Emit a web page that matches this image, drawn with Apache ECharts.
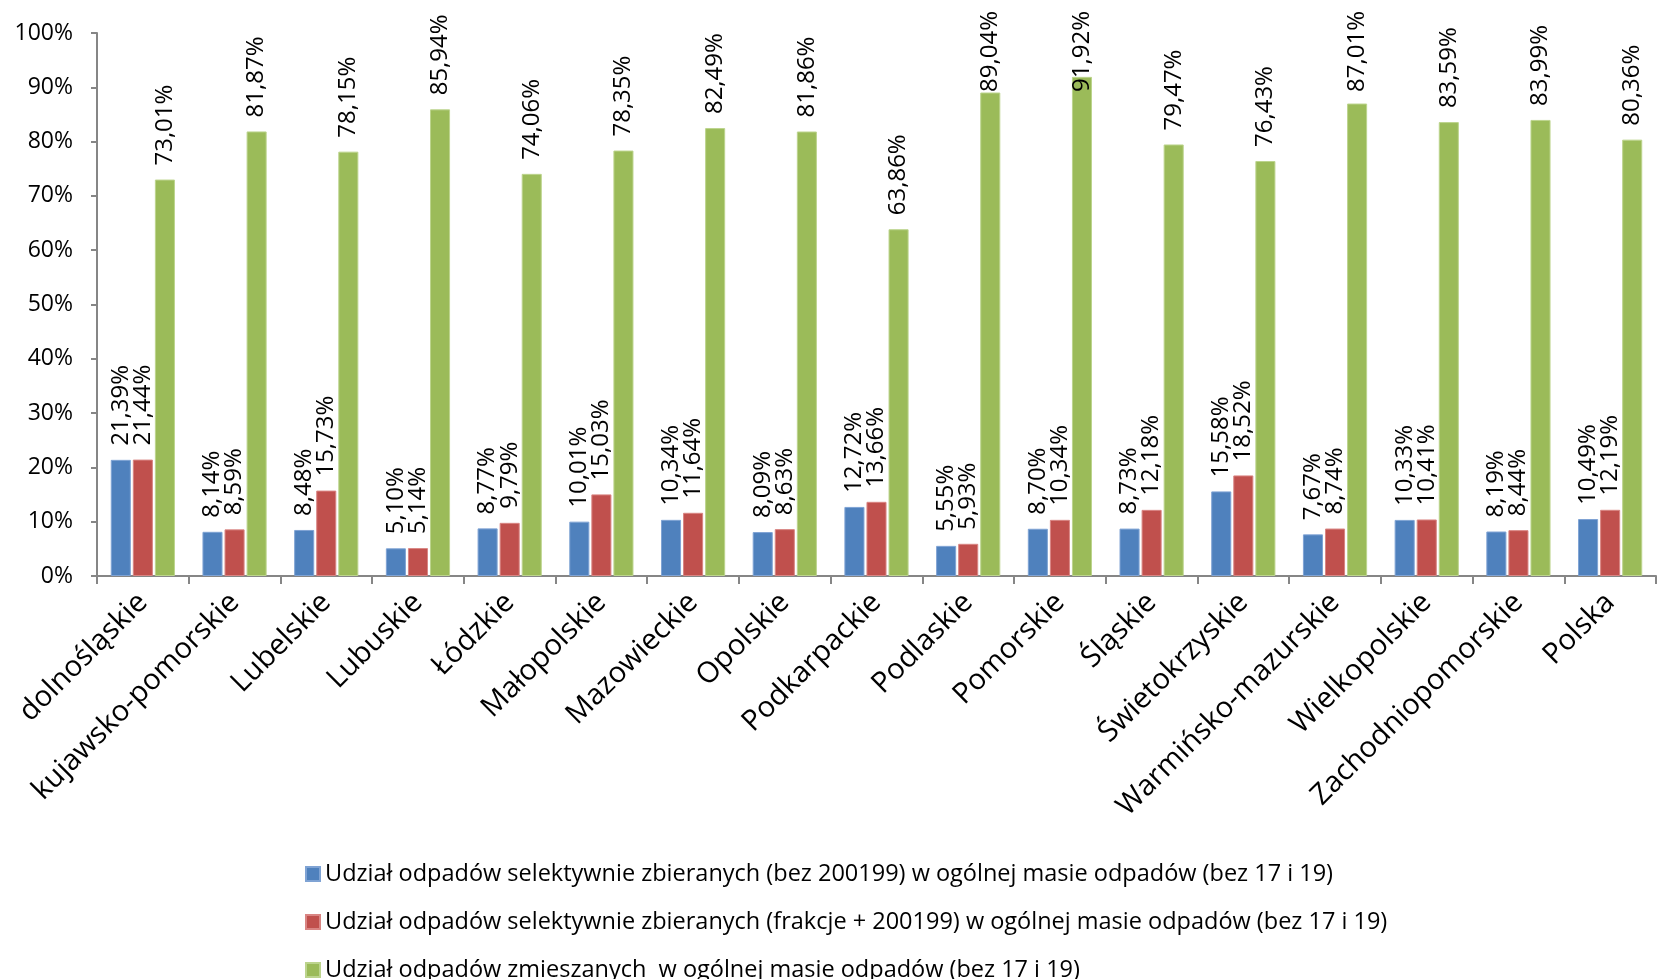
<!DOCTYPE html>
<html>
<head>
<meta charset="utf-8">
<script src="https://cdn.jsdelivr.net/npm/echarts@6/dist/echarts.min.js"></script>
<style>
  html, body { margin: 0; padding: 0; background: #ffffff; }
  #chart { width: 1659px; height: 979px; }
</style>
</head>
<body>
<div id="chart"></div>
<script>
// Regions (województwa) plus the national total
const categories = [
  'dolnośląskie', 'kujawsko-pomorskie', 'Lubelskie', 'Lubuskie', 'Łódzkie',
  'Małopolskie', 'Mazowieckie', 'Opolskie', 'Podkarpackie', 'Podlaskie',
  'Pomorskie', 'Śląskie', 'Świetokrzyskie', 'Warmińsko-mazurskie',
  'Wielkopolskie', 'Zachodniopomorskie', 'Polska'
];

// Shares in percent
const selectiveNo200199 = [21.39, 8.14, 8.48, 5.10, 8.77, 10.01, 10.34, 8.09, 12.72, 5.55, 8.70, 8.73, 15.58, 7.67, 10.33, 8.19, 10.49];
const selectiveWith200199 = [21.44, 8.59, 15.73, 5.14, 9.79, 15.03, 11.64, 8.63, 13.66, 5.93, 10.34, 12.18, 18.52, 8.74, 10.41, 8.44, 12.19];
const mixedWaste = [73.01, 81.87, 78.15, 85.94, 74.06, 78.35, 82.49, 81.86, 63.86, 89.04, 91.92, 79.47, 76.43, 87.01, 83.59, 83.99, 80.36];

const seriesNames = [
  'Udział odpadów selektywnie zbieranych (bez 200199) w ogólnej masie odpadów (bez 17 i 19)',
  'Udział odpadów selektywnie zbieranych (frakcje + 200199) w ogólnej masie odpadów (bez 17 i 19)',
  'Udział odpadów zmieszanych  w ogólnej masie odpadów (bez 17 i 19)'
];

const yTicks = [0, 10, 20, 30, 40, 50, 60, 70, 80, 90, 100];

const FONT = "'Open Sans', 'Noto Sans', sans-serif";

const colors = ['#4F81BD', '#C0504D', '#9BBB59'];
const borders = ['#7FA3D4', '#D98583', '#BCD48D'];

// Highest point a value label may reach; taller labels are pushed down onto the bar
const LABEL_TOP_LIMIT = 11;

function pct(v) {
  return v.toFixed(2).replace('.', ',') + '%';
}

function keepLabelInside(p) {
  const r = p.labelRect;
  if (r && r.y < LABEL_TOP_LIMIT) {
    return { y: LABEL_TOP_LIMIT + r.height };
  }
  return {};
}

function barSeries(name, data, i) {
  return {
    name: name,
    type: 'bar',
    data: data,
    barGap: '10%',
    barCategoryGap: '30%',
    itemStyle: { color: colors[i], borderColor: borders[i], borderWidth: 1 },
    label: {
      show: true,
      position: 'top',
      rotate: 90,
      align: 'left',
      verticalAlign: 'middle',
      distance: 14,
      color: '#000000',
      fontFamily: FONT,
      fontSize: 24,
      formatter: p => pct(p.value)
    },
    labelLayout: keepLabelInside
  };
}

// One legend row per series, stacked under the plot
const legendTops = [857, 905, 953];
const legends = seriesNames.map((name, i) => ({
  orient: 'horizontal',
  left: 300,
  top: legendTops[i],
  itemWidth: 14,
  itemHeight: 14,
  icon: 'rect',
  textStyle: { fontFamily: FONT, fontSize: 23.5, color: '#000000' },
  data: [name]
}));

const chart = echarts.init(document.getElementById('chart'), null, { renderer: 'canvas' });

chart.setOption({
  animation: false,
  backgroundColor: '#ffffff',
  color: colors,
  grid: { left: 97, right: 3, top: 33, bottom: 403, containLabel: false },
  legend: legends,
  xAxis: {
    type: 'category',
    data: categories,
    boundaryGap: true,
    axisLine: { lineStyle: { color: '#868686', width: 2 } },
    axisTick: { show: true, length: 8, alignWithLabel: false, lineStyle: { color: '#868686', width: 2 } },
    axisLabel: {
      interval: 0,
      rotate: 45,
      margin: 22,
      color: '#000000',
      fontFamily: FONT,
      fontSize: 29
    }
  },
  yAxis: {
    type: 'value',
    min: 0,
    max: 100,
    interval: 10,
    splitLine: { show: false },
    axisLine: { show: true, lineStyle: { color: '#868686', width: 2 } },
    axisTick: { show: true, inside: false, length: 6, lineStyle: { color: '#868686', width: 2 } },
    axisLabel: {
      color: '#000000',
      fontFamily: FONT,
      fontSize: 23,
      margin: 24,
      customValues: yTicks,
      formatter: v => v + '%'
    }
  },
  series: [
    barSeries(seriesNames[0], selectiveNo200199, 0),
    barSeries(seriesNames[1], selectiveWith200199, 1),
    barSeries(seriesNames[2], mixedWaste, 2)
  ]
});
</script>
</body>
</html>
